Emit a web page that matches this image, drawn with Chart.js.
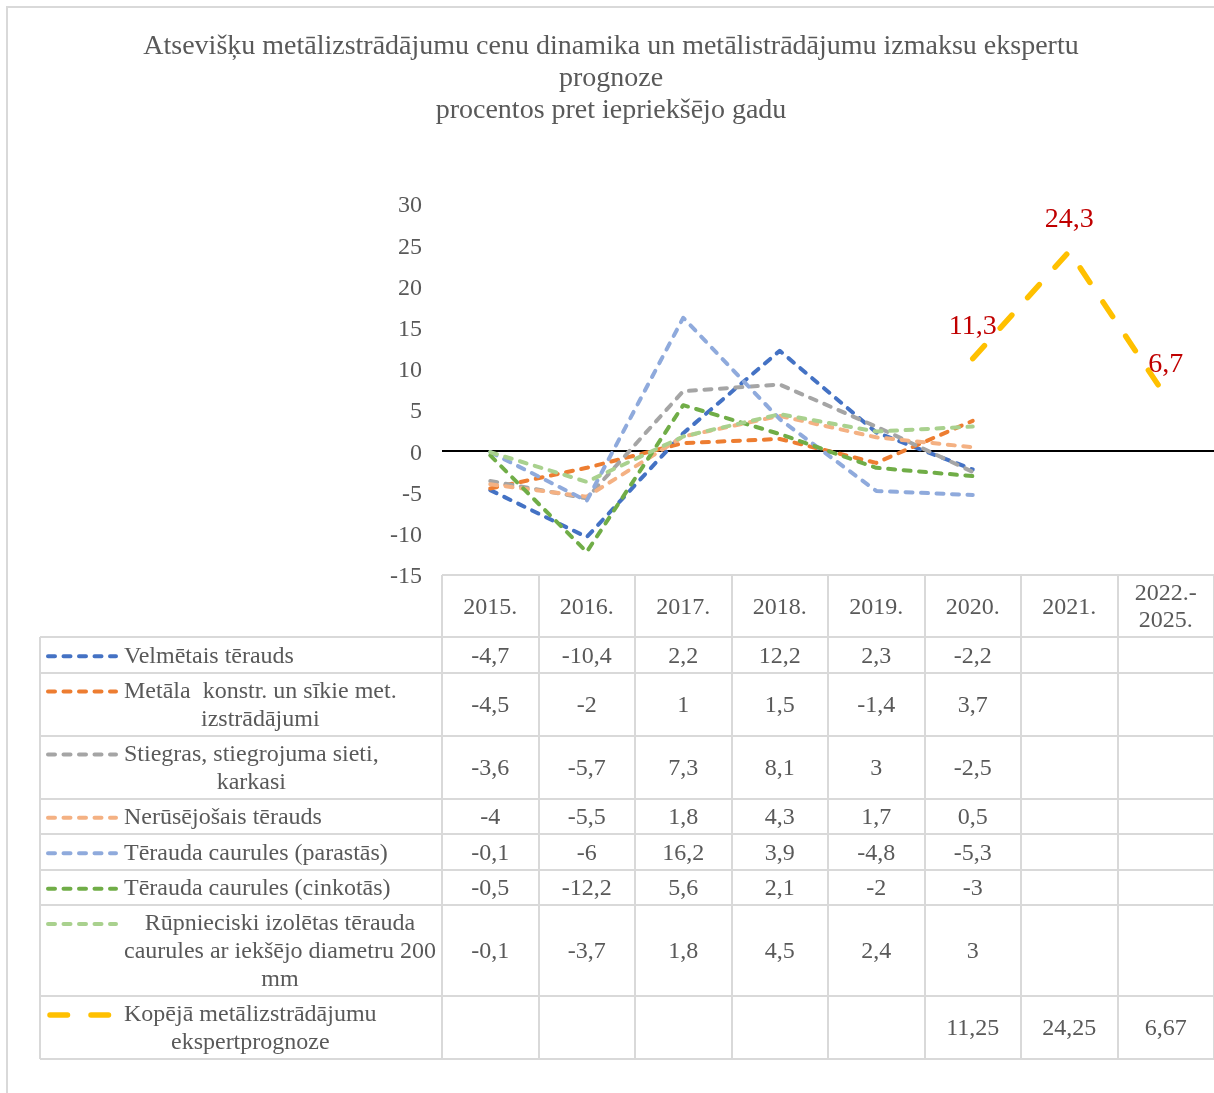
<!DOCTYPE html>
<html>
<head>
<meta charset="utf-8">
<script src="https://cdn.jsdelivr.net/npm/chart.js@4.4.1/dist/chart.umd.min.js"></script>
<style>
    html, body { margin: 0; padding: 0; background: #fff; }
</style>
</head>
<body>
<canvas id="myChart" width="1214" height="1093"></canvas>
<script>
// Data
const years = ['2015.', '2016.', '2017.', '2018.', '2019.', '2020.', '2021.', ['2022.-', '2025.']];

const velmetais = [-4.7, -10.4, 2.2, 12.2, 2.3, -2.2, null, null];
const metalaKonstr = [-4.5, -2, 1, 1.5, -1.4, 3.7, null, null];
const stiegras = [-3.6, -5.7, 7.3, 8.1, 3, -2.5, null, null];
const nerusejosais = [-4, -5.5, 1.8, 4.3, 1.7, 0.5, null, null];
const caurulesParastas = [-0.1, -6, 16.2, 3.9, -4.8, -5.3, null, null];
const caurulesCinkotas = [-0.5, -12.2, 5.6, 2.1, -2, -3, null, null];
const izoletasCaurules = [-0.1, -3.7, 1.8, 4.5, 2.4, 3, null, null];
const kopejaPrognoze = [null, null, null, null, null, 11.25, 24.25, 6.67];

const seriesNames = [
    ['Velmētais tērauds'],
    ['Metāla  konstr. un sīkie met.', 'izstrādājumi'],
    ['Stiegras, stiegrojuma sieti,', 'karkasi'],
    ['Nerūsējošais tērauds'],
    ['Tērauda caurules (parastās)'],
    ['Tērauda caurules (cinkotās)'],
    ['Rūpnieciski izolētas tērauda', 'caurules ar iekšējo diametru 200', 'mm'],
    ['Kopējā metālizstrādājumu', 'ekspertprognoze']
];
const seriesValues = [velmetais, metalaKonstr, stiegras, nerusejosais, caurulesParastas, caurulesCinkotas, izoletasCaurules, kopejaPrognoze];
const seriesColors = ['#4472C4', '#ED7D31', '#A5A5A5', '#F4B183', '#8FAADC', '#70AD47', '#A9D18E', '#FFC000'];

const yMin = -15;
const yMax = 30;
const yStep = 5;

const titleLines = [
    'Atsevišķu metālizstrādājumu cenu dinamika un metālistrādājumu izmaksu ekspertu',
    'prognoze',
    'procentos pret iepriekšējo gadu'
];

const FONT = "'Liberation Serif', 'Times New Roman', serif";
const TEXT = '#595959';
const GRID = '#d9d9d9';

const fmt = v => String(v).replace('.', ',');

// Frame around the chart (only left and top edges are visible)
const framePlugin = {
    id: 'frame',
    beforeDraw(chart) {
        const ctx = chart.ctx;
        ctx.save();
        ctx.strokeStyle = GRID;
        ctx.lineWidth = 2;
        ctx.beginPath();
        ctx.moveTo(7, chart.height);
        ctx.lineTo(7, 7);
        ctx.lineTo(chart.width, 7);
        ctx.stroke();
        ctx.restore();
    }
};

// Red value labels over the forecast line
const labelPlugin = {
    id: 'forecastLabels',
    afterDatasetsDraw(chart) {
        const ctx = chart.ctx;
        const idx = seriesValues.length - 1;
        const meta = chart.getDatasetMeta(idx);
        ctx.save();
        ctx.fillStyle = '#C00000';
        ctx.font = '28px ' + FONT;
        ctx.textAlign = 'center';
        ctx.textBaseline = 'middle';
        meta.data.forEach((pt, i) => {
            const v = kopejaPrognoze[i];
            if (v === null) return;
            ctx.fillText(v.toFixed(1).replace('.', ','), pt.x, pt.y - 32);
        });
        ctx.restore();
    }
};

// Data table under the plot, columns follow the x scale
const tablePlugin = {
    id: 'dataTable',
    afterDraw(chart) {
        const ctx = chart.ctx;
        const area = chart.chartArea;
        const xScale = chart.scales.x;
        const colW = (area.right - area.left) / years.length;
        const lineH = 28;
        const tableLeft = 40;
        const headerH = 62;
        const textShift = 1.5;

        // row heights from number of text lines
        const rows = seriesNames.map(n => n.length === 1 ? 35.5 : n.length * lineH + 7);
        const rowTops = [];
        let y = area.bottom + headerH;
        rows.forEach(h => { rowTops.push(y); y += h; });
        const tableBottom = y;

        ctx.save();
        ctx.strokeStyle = GRID;
        ctx.lineWidth = 2;
        ctx.beginPath();
        // header top
        ctx.moveTo(area.left, area.bottom);
        ctx.lineTo(chart.width, area.bottom);
        // row lines
        rowTops.forEach(t => { ctx.moveTo(tableLeft, Math.round(t)); ctx.lineTo(chart.width, Math.round(t)); });
        ctx.moveTo(tableLeft, Math.round(tableBottom));
        ctx.lineTo(chart.width, Math.round(tableBottom));
        // left border
        ctx.moveTo(tableLeft, rowTops[0]);
        ctx.lineTo(tableLeft, Math.round(tableBottom));
        // column lines
        for (let i = 0; i <= years.length; i++) {
            const cx = Math.round(area.left + i * colW);
            ctx.moveTo(cx, area.bottom);
            ctx.lineTo(cx, Math.round(tableBottom));
        }
        ctx.stroke();

        ctx.font = '24px ' + FONT;
        ctx.fillStyle = TEXT;
        ctx.textBaseline = 'middle';
        ctx.textAlign = 'center';

        // header
        years.forEach((yr, i) => {
            const cx = xScale.getPixelForValue(i);
            const lines = Array.isArray(yr) ? yr : [yr];
            const mid = area.bottom + headerH / 2 + textShift;
            lines.forEach((l, k) => {
                ctx.fillText(l, cx, mid + (k - (lines.length - 1) / 2) * 27);
            });
        });

        // rows
        seriesNames.forEach((name, r) => {
            const top = rowTops[r];
            const mid = top + rows[r] / 2 + textShift;
            const firstY = mid - (name.length - 1) / 2 * lineH;
            const ds = chart.data.datasets[r];

            // legend key
            ctx.save();
            ctx.strokeStyle = ds.borderColor;
            ctx.lineWidth = ds.borderWidth;
            ctx.lineCap = 'round';
            ctx.setLineDash(ds.borderDash);
            ctx.beginPath();
            ctx.moveTo(r === 7 ? 50 : 48, firstY);
            ctx.lineTo(r === 7 ? 110 : 116, firstY);
            ctx.stroke();
            ctx.restore();

            // name, lines centred on the widest one
            const maxW = Math.max(...name.map(l => ctx.measureText(l).width));
            const textX = 124 + maxW / 2;
            name.forEach((l, k) => ctx.fillText(l, textX, firstY + k * lineH));

            // values
            seriesValues[r].forEach((v, i) => {
                if (v === null) return;
                ctx.fillText(fmt(v), xScale.getPixelForValue(i), mid);
            });
        });
        ctx.restore();
    }
};

const datasets = seriesValues.map((vals, i) => {
    const forecast = i === seriesValues.length - 1;
    return {
        label: seriesNames[i].join(' '),
        data: vals,
        borderColor: seriesColors[i],
        backgroundColor: seriesColors[i],
        borderWidth: forecast ? 5.5 : 4,
        borderDash: forecast ? [17.5, 23.5] : [7, 8.5],
        borderCapStyle: 'round',
        borderJoinStyle: 'round',
        pointRadius: 0,
        tension: 0,
        order: seriesValues.length - i
    };
});

const ctx = document.getElementById('myChart').getContext('2d');

const myChart = new Chart(ctx, {
    type: 'line',
    data: {
        labels: years,
        datasets: datasets
    },
    options: {
        responsive: false,
        animation: false,
        devicePixelRatio: 1,
        layout: {
            padding: { top: 0, left: 8, right: 0, bottom: 518 }
        },
        plugins: {
            legend: { display: false },
            tooltip: { enabled: false },
            title: {
                display: true,
                text: titleLines,
                color: TEXT,
                font: { family: FONT, size: 28, weight: 'normal', lineHeight: 32 / 28 },
                padding: { top: 31, bottom: 77 }
            }
        },
        scales: {
            x: {
                display: false,
                offset: true
            },
            y: {
                min: yMin,
                max: yMax,
                ticks: {
                    stepSize: yStep,
                    color: TEXT,
                    font: { family: FONT, size: 24 },
                    padding: 20,
                    labelOffset: 2,
                    callback: v => String(v)
                },
                grid: {
                    drawTicks: false,
                    lineWidth: 2,
                    color: c => (c.tick && c.tick.value === 0) ? '#000000' : 'rgba(0,0,0,0)'
                },
                border: { display: false },
                afterFit: s => { s.width = 434; }
            }
        }
    },
    plugins: [framePlugin, labelPlugin, tablePlugin]
});
</script>
</body>
</html>
